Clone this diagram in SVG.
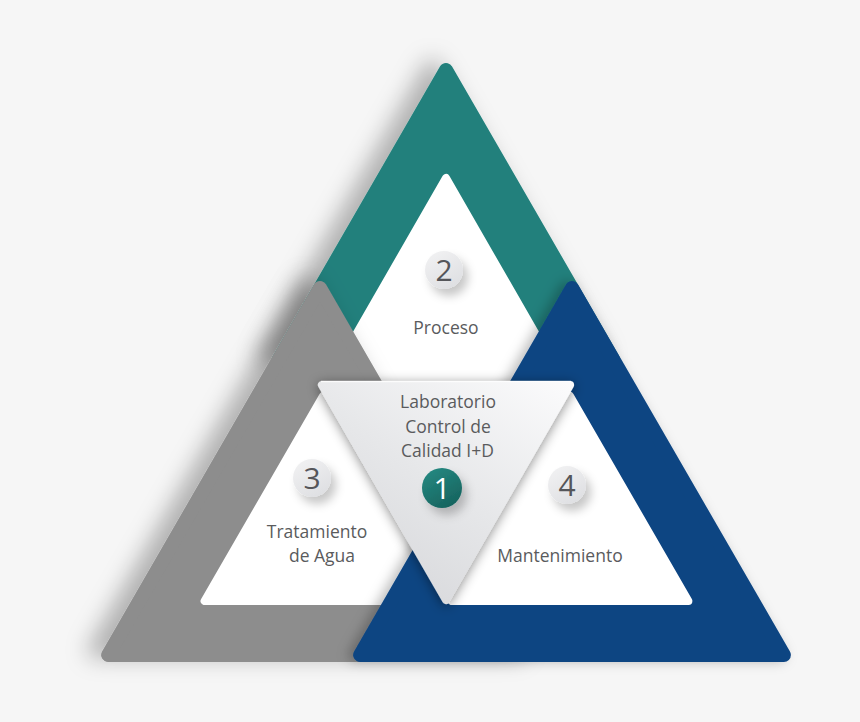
<svg xmlns="http://www.w3.org/2000/svg" width="860" height="722" viewBox="0 0 860 722">
  <defs>
    <style>
      .lbl { font-family: "Open Sans", "Liberation Sans", sans-serif; font-size: 17.5px; fill: #5a5b5d; text-anchor: middle; }
      .num { font-family: "Open Sans", "Liberation Sans", sans-serif; font-size: 30px; font-weight: 400; fill: #55565a; text-anchor: middle; }
      .num1 { font-family: "Open Sans", "Liberation Sans", sans-serif; font-size: 30px; font-weight: 400; fill: #ffffff; text-anchor: middle; }
      .outer { stroke-width: 14; stroke-linejoin: round; }
      .inner { fill: #ffffff; stroke: #ffffff; stroke-width: 8; stroke-linejoin: round; }
      .teal { fill: #21807c; stroke: #21807c; }
      .gray { fill: #8d8d8d; stroke: #8d8d8d; }
      .blue { fill: #0c4582; stroke: #0c4582; }
      .badge { fill: url(#badgeGrad); filter: url(#badgeShadow); }
    </style>
    <filter id="bigShadow" x="-30%" y="-30%" width="160%" height="160%">
      <feDropShadow dx="-14" dy="-4" stdDeviation="11" flood-color="#000" flood-opacity="0.28"/>
    </filter>
    <filter id="smallShadow" x="-30%" y="-30%" width="160%" height="160%">
      <feDropShadow dx="-5" dy="0" stdDeviation="6" flood-color="#000" flood-opacity="0.25"/>
    </filter>
    <filter id="centerShadow" x="-30%" y="-30%" width="160%" height="160%">
      <feDropShadow dx="0" dy="2" stdDeviation="6" flood-color="#000" flood-opacity="0.45"/>
    </filter>
    <filter id="badgeShadow" x="-60%" y="-60%" width="260%" height="260%">
      <feDropShadow dx="5" dy="7" stdDeviation="5" flood-color="#000" flood-opacity="0.22"/>
    </filter>
    <linearGradient id="centerGrad" x1="1" y1="0" x2="0.25" y2="1">
      <stop offset="0" stop-color="#fbfbfc"/>
      <stop offset="0.55" stop-color="#e6e7e9"/>
      <stop offset="1" stop-color="#d7d8db"/>
    </linearGradient>
    <linearGradient id="badgeGrad" x1="0" y1="0" x2="0.6" y2="1">
      <stop offset="0" stop-color="#f3f3f4"/>
      <stop offset="1" stop-color="#dfe0e3"/>
    </linearGradient>
    <linearGradient id="badge1Grad" x1="0" y1="0" x2="0.6" y2="1">
      <stop offset="0" stop-color="#268c84"/>
      <stop offset="1" stop-color="#176560"/>
    </linearGradient>
  </defs>

  <rect x="0" y="0" width="860" height="722" fill="#f6f6f6"/>

  <g id="node-proceso">
    <polygon class="outer teal" points="446,70 278.6,360 613.4,360" filter="url(#bigShadow)"/>
    <polygon class="inner" points="446,178 327.6,384 564.4,384"/>
    <circle class="badge" cx="444" cy="270" r="19"/>
    <text class="num" x="444" y="281">2</text>
    <text class="lbl" x="446" y="334">Proceso</text>
  </g>

  <g id="node-tratamiento">
    <polygon class="outer gray" points="320,288 108.1,655 531.9,655" filter="url(#bigShadow)"/>
    <polygon class="inner" points="323,396 204.6,601 441.4,601"/>
    <circle class="badge" cx="312" cy="478" r="19"/>
    <text class="num" x="312" y="489">3</text>
    <text class="lbl" x="317" y="538">Tratamiento</text>
    <text class="lbl" x="322" y="562">de Agua</text>
  </g>

  <g id="node-mantenimiento">
    <polygon class="outer blue" points="572,288 360.1,655 783.9,655" filter="url(#smallShadow)"/>
    <polygon class="inner" points="570,396 451.6,601 688.4,601"/>
    <circle class="badge" cx="567" cy="485" r="19"/>
    <text class="num" x="567" y="496">4</text>
    <text class="lbl" x="560" y="562">Mantenimiento</text>
  </g>

  <g id="node-laboratorio">
    <polygon points="321.9,385 570.1,385 446,600" fill="url(#centerGrad)" stroke="url(#centerGrad)" stroke-width="8" stroke-linejoin="round" filter="url(#centerShadow)"/>
    <path d="M321 381.6 L571 381.6" stroke="#ffffff" stroke-width="1.5" stroke-opacity="0.8" fill="none"/>
    <text class="lbl" x="448" y="408">Laboratorio</text>
    <text class="lbl" x="448" y="432.5">Control de</text>
    <text class="lbl" x="447.5" y="456.5">Calidad I+D</text>
    <circle cx="442" cy="488" r="20" fill="url(#badge1Grad)" filter="url(#badgeShadow)"/>
    <text class="num1" x="442" y="499">1</text>
  </g>

  <g id="connectors"/>
</svg>
